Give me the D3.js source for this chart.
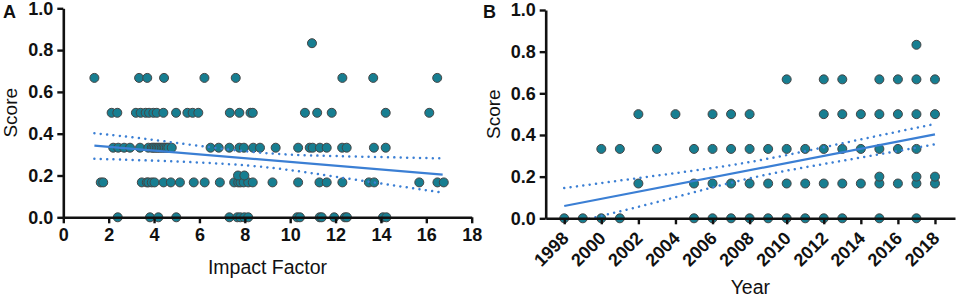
<!DOCTYPE html>
<html>
<head>
<meta charset="utf-8">
<script src="https://cdn.jsdelivr.net/npm/d3@7"></script>
<style>
  html, body { margin: 0; padding: 0; background: #fff; }
  svg { display: block; font-family: "Liberation Sans", Arial, sans-serif; }
</style>
</head>
<body>
<svg id="chart" width="957" height="299"></svg>
<script>
// ---- Panel A: impact factor of each study, grouped by score level ----
const ifScore0 = [2.40, 3.82, 4.19, 4.98, 7.32, 7.67, 7.80, 7.98, 8.15, 10.31, 10.43, 11.30, 11.39, 11.94, 12.41, 12.50, 14.09, 14.24];
const ifScore017 = [1.65, 1.76, 3.46, 3.68, 3.75, 3.90, 4.02, 4.42, 4.74, 5.14, 5.75, 6.23, 6.90, 7.53, 7.71, 7.81, 7.95, 8.15, 8.35, 9.22, 10.35, 11.29, 11.61, 12.30, 13.47, 13.70, 15.69, 16.49, 16.77];
const ifScore020 = [7.70, 7.98];
const ifScore033 = [2.20, 2.42, 2.68, 2.94, 3.38, 3.75, 3.90, 3.97, 4.04, 4.12, 4.19, 4.26, 4.34, 4.41, 4.48, 4.56, 4.63, 4.78, 6.49, 6.85, 7.32, 7.76, 7.96, 8.37, 8.67, 9.36, 10.35, 10.86, 10.99, 11.31, 11.61, 12.29, 12.49, 13.69, 14.21];
const ifScore050 = [2.13, 2.38, 3.20, 3.41, 3.63, 3.78, 3.97, 4.12, 4.41, 4.97, 5.47, 5.70, 5.95, 7.34, 7.76, 8.25, 8.35, 10.65, 11.19, 11.83, 14.21, 16.13];
const ifScore067 = [1.37, 3.34, 3.70, 4.44, 6.22, 7.60, 12.30, 13.66, 16.48];
const ifScore083 = [10.96];

// fitted line and 95% band
const fitA_x = [1.37, 16.72];
const fitA_y = [0.343, 0.204];
const bandA_x = [1.37, 4, 8.2, 12, 16.72];
const bandA_upper = [0.402, 0.370, 0.314, 0.293, 0.282];
const bandA_lower = [0.280, 0.271, 0.247, 0.194, 0.118];

// ---- Panel B: publication year of each study, grouped by score level ----
const yrScore0 = [1998, 1999, 2000, 2001, 2005, 2006, 2007, 2008, 2009, 2010, 2011, 2012, 2013, 2015, 2017];
const yrScore017 = [2002, 2005, 2006, 2007, 2008, 2009, 2010, 2011, 2012, 2013, 2014, 2015, 2016, 2017, 2018];
const yrScore020 = [2015, 2017, 2018];
const yrScore033 = [2000, 2001, 2003, 2005, 2006, 2007, 2008, 2009, 2010, 2011, 2012, 2013, 2014, 2015, 2016, 2017];
const yrScore050 = [2002, 2004, 2006, 2007, 2008, 2012, 2013, 2014, 2015, 2016, 2017, 2018];
const yrScore067 = [2010, 2012, 2013, 2015, 2016, 2017, 2018];
const yrScore083 = [2017];

const fitB_x = [1998, 2018];
const fitB_y = [0.059, 0.403];
const bandB_x = [1998, 2003, 2008, 2013, 2018];
const bandB_upper = [0.145, 0.205, 0.270, 0.360, 0.453];
const bandB_lower = [-0.030, 0.078, 0.192, 0.276, 0.355];

const scoreLevels = [0, 0.167, 0.2, 0.333, 0.5, 0.667, 0.833];
const yTicks = [0, 0.2, 0.4, 0.6, 0.8, 1.0];
const xTicksA = [0, 2, 4, 6, 8, 10, 12, 14, 16, 18];
const xTicksB = [1998, 2000, 2002, 2004, 2006, 2008, 2010, 2012, 2014, 2016, 2018];

const pointsA = [ifScore0, ifScore017, ifScore020, ifScore033, ifScore050, ifScore067, ifScore083]
  .flatMap((xs, i) => xs.map(x => ({ x, y: scoreLevels[i] })));
const pointsB = [yrScore0, yrScore017, yrScore020, yrScore033, yrScore050, yrScore067, yrScore083]
  .flatMap((xs, i) => xs.map(x => ({ x, y: scoreLevels[i] })));

const dotFill = '#177e91';
const dotStroke = '#454545';
const lineBlue = '#3b7fd4';
const svg = d3.select('#chart');

function panel(opts) {
  const { xScale, yScale, points, fitX, fitY, bandX, bandU, bandL, xTicks, letter, letterX, titleX, rotated, id } = opts;
  const g = svg.append('g');
  const [x0, x1] = xScale.range();
  const [yb, yt] = yScale.range();

  g.append('clipPath').attr('id', id)
    .append('rect').attr('x', x0).attr('y', yt).attr('width', x1 - x0).attr('height', yb - yt);

  // points
  g.append('g').selectAll('circle').data(points).enter().append('circle')
    .attr('cx', d => xScale(d.x))
    .attr('cy', d => yScale(d.y))
    .attr('r', 4.5)
    .attr('fill', dotFill)
    .attr('stroke', dotStroke)
    .attr('stroke-width', 1);

  // confidence band + fit
  const band = d3.line().curve(d3.curveNatural).x(d => xScale(d[0])).y(d => yScale(d[1]));
  [bandU, bandL].forEach(vals => {
    g.append('path')
      .datum(bandX.map((x, i) => [x, vals[i]]))
      .attr('d', band)
      .attr('clip-path', `url(#${id})`)
      .attr('fill', 'none')
      .attr('stroke', lineBlue)
      .attr('stroke-width', 2.5)
      .attr('stroke-linecap', 'round')
      .attr('stroke-dasharray', '0.01,6.4');
  });
  g.append('path')
    .datum(fitX.map((x, i) => [x, fitY[i]]))
    .attr('d', d3.line().x(d => xScale(d[0])).y(d => yScale(d[1])))
    .attr('fill', 'none')
    .attr('stroke', lineBlue)
    .attr('stroke-width', 2.2);

  // axes
  const yAxis = g.append('g').attr('transform', `translate(${x0},0)`)
    .call(d3.axisLeft(yScale).tickValues(yTicks).tickFormat(d3.format('.1f')).tickSize(6).tickSizeOuter(0).tickPadding(4));
  const xAxis = g.append('g').attr('transform', `translate(0,${yb})`)
    .call(d3.axisBottom(xScale).tickValues(xTicks).tickFormat(d => d).tickSize(6).tickSizeOuter(0).tickPadding(5));

  [yAxis, xAxis].forEach(a => {
    a.select('.domain').attr('stroke', '#111').attr('stroke-width', 2.6);
    a.selectAll('.tick line').attr('stroke', '#111').attr('stroke-width', 2.4);
    a.selectAll('.tick text').attr('fill', '#111').style('font-size', '18px').style('font-weight', 'bold');
  });

  if (rotated) {
    xAxis.selectAll('.tick text')
      .attr('text-anchor', 'end')
      .attr('dy', null)
      .attr('y', 0)
      .attr('transform', 'translate(5,21) rotate(-45)');
  }

  // titles
  g.append('text')
    .attr('transform', `translate(${x0 - 46},${(yb + yt) / 2}) rotate(-90)`)
    .attr('text-anchor', 'middle')
    .style('font-size', '19px')
    .attr('fill', '#111')
    .text('Score');
  g.append('text')
    .attr('x', (x0 + x1) / 2)
    .attr('y', titleX)
    .attr('text-anchor', 'middle')
    .style('font-size', '19.5px')
    .attr('fill', '#111')
    .text(opts.xTitle);
  g.append('text')
    .attr('x', letterX)
    .attr('y', 18)
    .style('font-size', '18px')
    .style('font-weight', 'bold')
    .attr('fill', '#111')
    .text(letter);
}

panel({
  id: 'clipA',
  xScale: d3.scaleLinear().domain([0, 18]).range([63.3, 471.7]),
  yScale: d3.scaleLinear().domain([0, 1]).range([217.3, 8.3]),
  points: pointsA,
  fitX: fitA_x, fitY: fitA_y,
  bandX: bandA_x, bandU: bandA_upper, bandL: bandA_lower,
  xTicks: xTicksA,
  letter: 'A', letterX: 3,
  xTitle: 'Impact Factor', titleX: 274,
  rotated: false
});

panel({
  id: 'clipB',
  xScale: d3.scaleLinear().domain([1997, 2019.08]).range([545.7, 955]),
  yScale: d3.scaleLinear().domain([0, 1]).range([218.3, 10]),
  points: pointsB,
  fitX: fitB_x, fitY: fitB_y,
  bandX: bandB_x, bandU: bandB_upper, bandL: bandB_lower,
  xTicks: xTicksB,
  letter: 'B', letterX: 483,
  xTitle: 'Year', titleX: 294,
  rotated: true
});
</script>
</body>
</html>
